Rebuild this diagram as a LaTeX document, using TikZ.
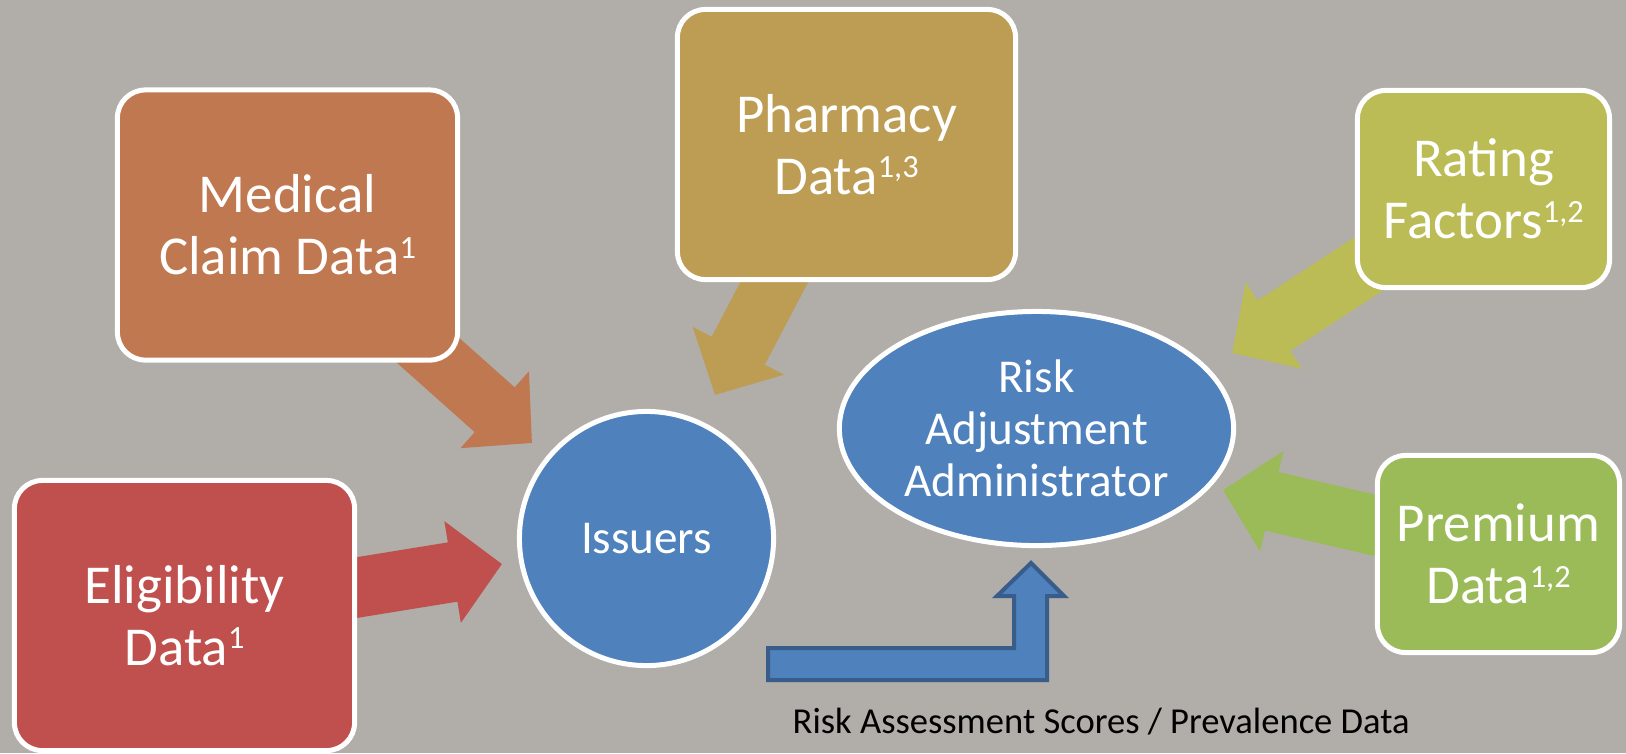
\documentclass[tikz,border=0pt]{standalone}
\usepackage{fontspec}
\setmainfont{Carlito}
\usetikzlibrary{arrows.meta,shapes.geometric}

\definecolor{slate}{RGB}{177,173,169}
\definecolor{hubblue}{RGB}{79,129,189}
\definecolor{hubedge}{RGB}{56,93,138}
\definecolor{eligred}{RGB}{192,80,77}
\definecolor{medorange}{RGB}{191,120,80}
\definecolor{pharmgold}{RGB}{189,156,83}
\definecolor{rateolive}{RGB}{187,188,86}
\definecolor{premgreen}{RGB}{155,187,89}

\newcommand{\fnref}[1]{\raisebox{0.3em}{\fontsize{9.2}{9.2}\selectfont #1}}

\pgfdeclarelayer{bg}
\pgfdeclarelayer{feeds}
\pgfsetlayers{bg,feeds,main}

\tikzset{
    databox/.style={rectangle, rounded corners=0.28cm, draw=white, line width=0.05cm,
        text=white, font=\fontsize{15.6}{17.6}\selectfont, align=center, inner sep=0pt},
    hub/.style={draw=white, line width=0.05cm, fill=hubblue, text=white,
        font=\fontsize{13.4}{14.8}\selectfont, align=center, inner sep=0pt},
    feed/.style={line width=0.6cm, -{Triangle[length=0.5cm,width=1cm]}},
    scorearrow/.style={fill=hubblue, draw=hubedge, line width=0.04cm, line join=miter}
}

\begin{document}
\begin{tikzpicture}[x=0.01cm, y=-0.01cm]
    % Canvas
    \useasboundingbox (0,0) rectangle (1626,753);
    \begin{pgfonlayer}{bg}
        \fill[slate] (0,0) rectangle (1626,753);
    \end{pgfonlayer}

    % Data sources
    \node[databox, fill=eligred, minimum width=3.4cm, minimum height=2.7cm] (elig) at (184.5,615.5) {Eligibility\\Data\fnref{1}};
    \node[databox, fill=medorange, minimum width=3.4cm, minimum height=2.7cm] (medical) at (287.5,225) {Medical\\Claim Data\fnref{1}};
    \node[databox, fill=pharmgold, minimum width=3.38cm, minimum height=2.7cm] (pharmacy) at (846.5,144.5) {Pharmacy\\Data\fnref{1,3}};
    \node[databox, fill=rateolive, minimum width=2.52cm, minimum height=1.97cm] (rating) at (1483.5,189) {Rating\\Factors\fnref{1,2}};
    \node[databox, fill=premgreen, minimum width=2.42cm, minimum height=1.97cm] (premium) at (1498.5,554) {Premium\\Data\fnref{1,2}};

    % Receivers
    \node[hub, circle, minimum size=2.54cm] (issuers) at (646.5,538.5) {Issuers};
    \node[hub, ellipse, minimum width=3.94cm, minimum height=2.34cm] (raa) at (1036.5,428.5) {Risk\\Adjustment\\Administrator};

    % Arrow tips
    \coordinate (eligTip) at (502,564);
    \coordinate (medTip) at (532,443);
    \coordinate (pharmTip) at (715,395);
    \coordinate (rateTip) at (1232,353);
    \coordinate (premTip) at (1223,490);

    % Block arrows behind the boxes
    \begin{pgfonlayer}{feeds}
        \draw[feed, eligred] (elig.center) -- (eligTip);
        \draw[feed, medorange] (medical.center) -- (medTip);
        \draw[feed, pharmgold] (pharmacy.center) -- (pharmTip);
        \draw[feed, rateolive] (rating.center) -- (rateTip);
        \draw[feed, premgreen] (premium.center) -- (premTip);
    \end{pgfonlayer}

    % Bent arrow from issuers up to the administrator
    \coordinate (scoresFrom) at (768,680);
    \draw[scorearrow] (scoresFrom) -- ++(0,-32) -- ++(246,0) -- ++(0,-52) -- ++(-17,0)
        -- ++(34,-33) -- ++(33,33) -- ++(-17,0) -- ++(0,84) -- cycle;
    \node[font=\fontsize{10.4}{12}\selectfont, inner sep=0pt, anchor=base west] (scores) at (792,733) {Risk Assessment Scores / Prevalence Data};
\end{tikzpicture}
\end{document}
